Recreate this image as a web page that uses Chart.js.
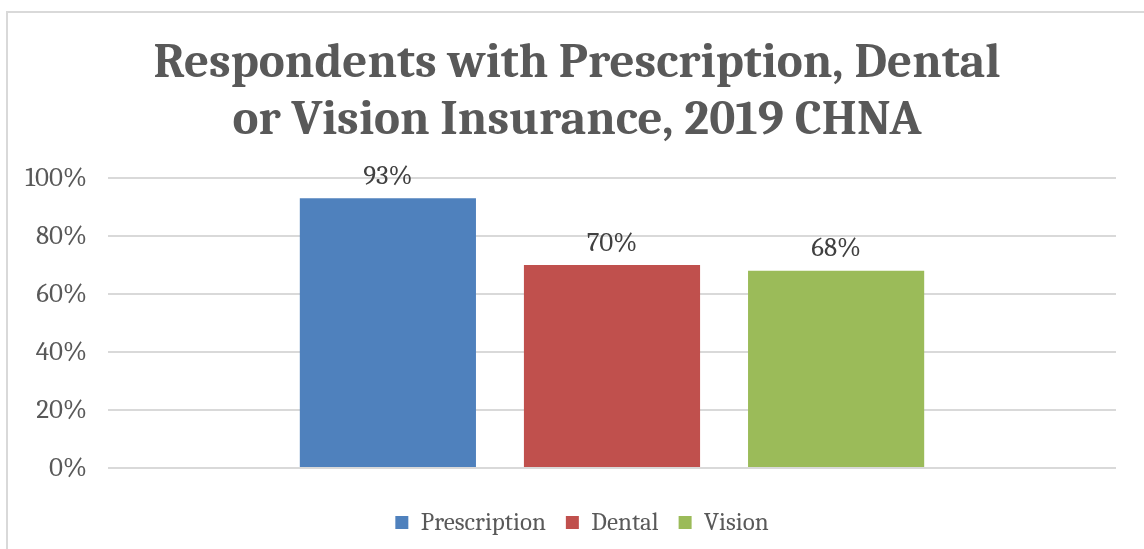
<!DOCTYPE html>
<html>
<head>
<meta charset="utf-8">
<script src="https://cdn.jsdelivr.net/npm/chart.js@4"></script>
<style>
  html, body { margin: 0; padding: 0; background: #fff; }
  #wrap { position: relative; width: 1144px; height: 549px; overflow: hidden; }
  #frame { position: absolute; left: 6px; top: 11px; width: 1200px; height: 600px;
           border-left: 2px solid #d9d9d9; border-top: 2px solid #d9d9d9; }
  canvas { position: absolute; left: 0; top: 0; }
</style>
</head>
<body>
<div id="wrap">
  <div id="frame"></div>
  <canvas id="chart-area" width="1144" height="549"></canvas>
</div>
<script>
let seriesNames = ['Prescription', 'Dental', 'Vision'];
let seriesValues = [93, 70, 68];
let seriesColors = ['#4f81bd', '#c0504d', '#9bbb59'];
let yTicks = [0, 20, 40, 60, 80, 100];
let titleLines = ['Respondents with Prescription, Dental', 'or Vision Insurance, 2019 CHNA'];

const serif = "Cambria, 'Liberation Serif', 'DejaVu Serif', serif";

// value labels above each bar
const barLabels = {
  id: 'barLabels',
  afterDatasetsDraw(chart) {
    const ctx = chart.ctx;
    ctx.save();
    ctx.font = '27px ' + serif;
    ctx.fillStyle = '#404040';
    ctx.textAlign = 'center';
    ctx.textBaseline = 'middle';
    chart.data.datasets.forEach(function (ds, i) {
      chart.getDatasetMeta(i).data.forEach(function (bar, j) {
        ctx.fillText(ds.data[j] + '%', bar.x, bar.y - 22);
      });
    });
    ctx.restore();
  }
};

// two-line title, centred on the whole frame rather than the plot
const frameTitle = {
  id: 'frameTitle',
  afterDraw(chart) {
    const ctx = chart.ctx;
    ctx.save();
    ctx.font = 'bold 49px ' + serif;
    ctx.fillStyle = '#595959';
    ctx.textAlign = 'center';
    ctx.textBaseline = 'alphabetic';
    const cx = chart.width / 2 + 5;
    titleLines.forEach(function (line, i) {
      ctx.fillText(line, cx, 77 + i * 57);
    });
    ctx.restore();
  }
};

// nudge the legend so it sits centred under the frame too
const legendShift = {
  id: 'legendShift',
  afterLayout(chart) {
    chart.legend.left += 24;
    chart.legend.right += 24;
  }
};

let datasets = seriesNames.map(function (name, i) {
  return {
    label: name,
    data: [seriesValues[i]],
    backgroundColor: seriesColors[i],
    categoryPercentage: 0.667,
    barPercentage: 0.786
  };
});

var ctx = document.getElementById('chart-area').getContext('2d');
var chart = new Chart(ctx, {
  type: 'bar',
  data: { labels: [''], datasets: datasets },
  plugins: [barLabels, frameTitle, legendShift],
  options: {
    responsive: false,
    animation: false,
    layout: { padding: { left: 0, right: 28, top: 178, bottom: 4 } },
    plugins: {
      title: { display: false },
      legend: {
        position: 'bottom',
        labels: {
          color: '#595959',
          font: { family: serif, size: 25 },
          boxWidth: 13,
          boxHeight: 13,
          padding: 20
        }
      },
      tooltip: { enabled: false }
    },
    scales: {
      x: {
        afterFit: function (scale) { scale.height = 22; },
        border: { display: false },
        grid: { display: false },
        ticks: { display: false }
      },
      y: {
        min: 0,
        max: 100,
        afterFit: function (scale) { scale.width = 108; },
        afterBuildTicks: function (scale) {
          scale.ticks = yTicks.map(function (v) { return { value: v }; });
        },
        border: { display: false },
        grid: { color: '#d9d9d9', lineWidth: 2, drawTicks: false },
        ticks: {
          padding: 21,
          color: '#595959',
          font: { family: serif, size: 27 },
          callback: function (v) { return v + '%'; }
        }
      }
    }
  }
});
</script>
</body>
</html>
